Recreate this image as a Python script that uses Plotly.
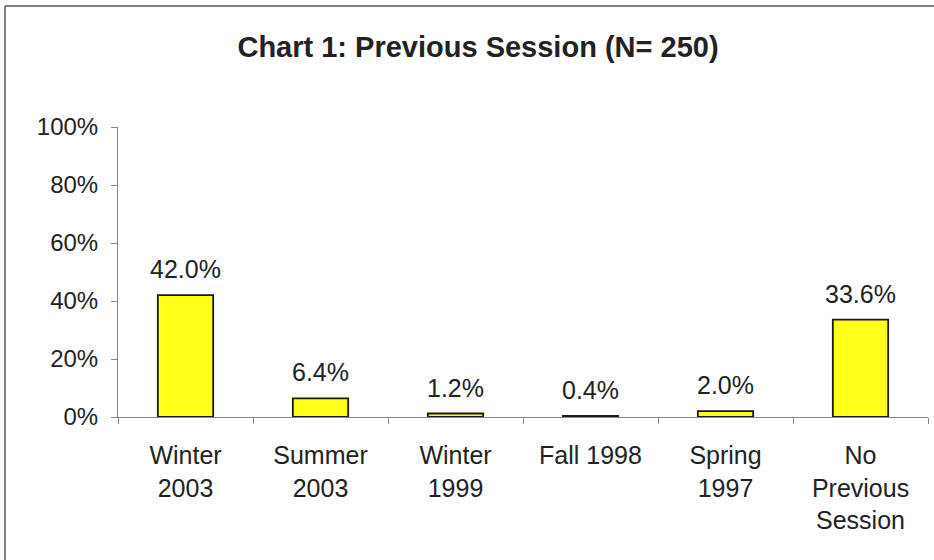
import plotly.graph_objects as go

categories = ["Winter<br>2003", "Summer<br>2003", "Winter<br>1999", "Fall 1998", "Spring<br>1997", "No<br>Previous<br>Session"]
values = [42.0, 6.4, 1.2, 0.4, 2.0, 33.6]
labels = [f"{v:.1f}%" for v in values]
yticks = [0, 20, 40, 60, 80, 100]
yticklabels = [f"{t}%" for t in yticks]

W, H = 934, 560
L, R, T, B = 118, 6, 127, 143
pw, ph = W - L - R, H - T - B

fig = go.Figure(go.Bar(
    x=categories, y=values,
    marker=dict(color="#ffff1a", line=dict(color="#1a1a1a", width=1.8)),
    width=0.41,
))

annotations = [
    dict(x=c, y=v, text=t, xref="x", yref="y", showarrow=False,
         yanchor="bottom", yshift=10, font=dict(size=25, color="#222"))
    for c, v, t in zip(categories, values, labels)
]

# chart frame: only the top and left edges fall inside the picture
fx0 = (5 - L) / pw
fy1 = (ph + T - 6) / ph
fy0 = -(H - T - ph) / ph
fx1 = (W - L) / pw
frame = [
    dict(type="line", xref="paper", yref="paper", x0=fx0, x1=fx1, y0=fy1, y1=fy1,
         line=dict(color="#555", width=1.5), layer="below"),
    dict(type="line", xref="paper", yref="paper", x0=fx0, x1=fx0, y0=fy0, y1=fy1,
         line=dict(color="#555", width=1.5), layer="below"),
]

fig.update_layout(
    width=W, height=H,
    margin=dict(l=L, r=R, t=T, b=B),
    paper_bgcolor="white", plot_bgcolor="white",
    font=dict(family="Liberation Sans, Arial, sans-serif", color="#222", size=24),
    title=dict(text="<b>Chart 1: Previous Session (N= 250)</b>",
               font=dict(family="Liberation Sans Narrow, Arial Narrow, Liberation Sans, sans-serif", size=29, color="#222"),
               x=478 / W, xanchor="center", y=1 - 47 / H, yanchor="middle"),
    showlegend=False,
    annotations=annotations,
    shapes=frame,
)
fig.update_xaxes(showline=True, linecolor="#888", linewidth=1, ticks="outside",
                 tickson="boundaries", ticklen=6, tickcolor="#888",
                 tickfont=dict(size=25), showgrid=False, ticklabelstandoff=16)
fig.update_yaxes(range=[0, 100], tickvals=yticks, ticktext=yticklabels,
                 showline=True, linecolor="#888", linewidth=1, ticks="outside",
                 ticklen=6, tickcolor="#888", showgrid=False, zeroline=False,
                 tickfont=dict(size=24), ticklabelstandoff=8)

fig.write_html("out.html", config={"displayModeBar": False},
               post_script="document.body.style.margin='0';")
